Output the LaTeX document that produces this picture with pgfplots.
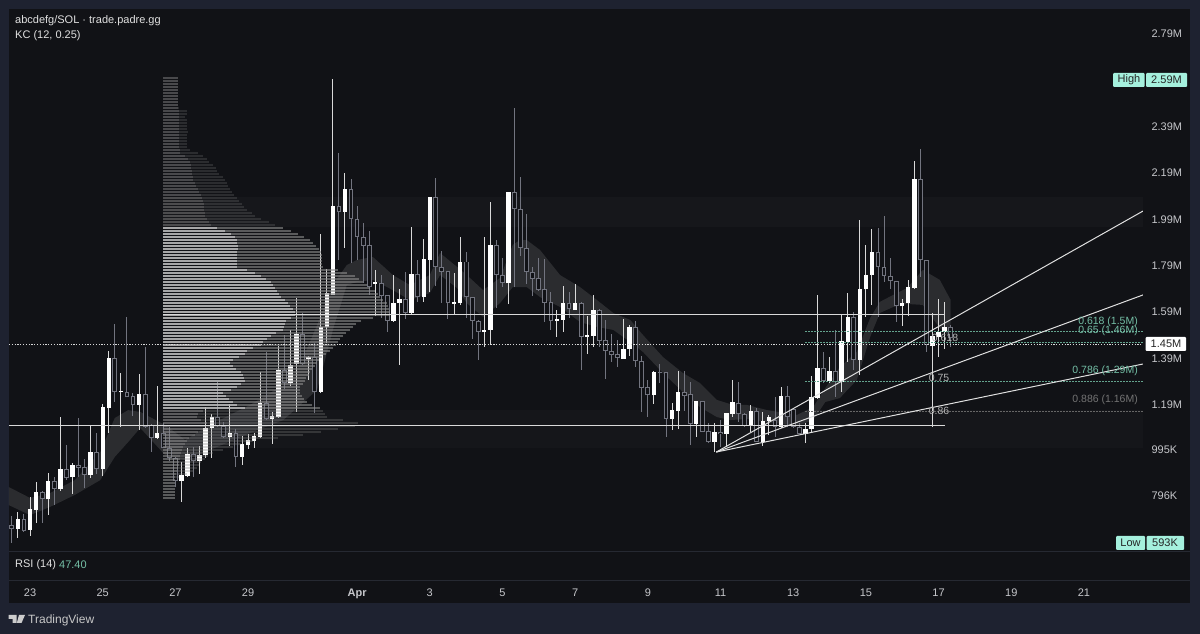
\documentclass[border=0pt]{standalone}
\usepackage{pgfplots}
\usepackage{pgfplotstable}
\usepackage{fontspec}
\pgfplotsset{compat=1.18}
\setmainfont{Liberation Sans}
\definecolor{outer}{HTML}{1E2230}
\definecolor{inner}{HTML}{111216}
\definecolor{divline}{HTML}{262932}
\definecolor{ticktxt}{HTML}{C6C7CB}
\definecolor{mint}{HTML}{A5F0DD}
\definecolor{teal}{HTML}{74BFA6}
\definecolor{hollow}{HTML}{72747F}
\newcommand{\fs}[1]{\fontsize{#1}{#1}\selectfont}
\pgfplotsset{errplot/.style={only marks,mark size=0pt,mark options={draw=none,fill=none}}}
\pgfplotstableread{
i t b h l
-2 0.691 0.648 0.722 0.610
0 0.734 0.645 0.786 0.619
1 0.809 0.731 0.852 0.676
3 0.855 0.777 0.889 0.708
5 0.907 0.820 1.131 0.814
7 0.926 0.872 0.935 0.800
10 0.981 0.881 1.093 0.869
12 1.174 0.907 1.188 0.878
13 1.386 1.170 1.417 1.064
15 1.244 1.239 1.323 1.090
18 1.231 1.185 1.318 1.076
21 1.063 1.042 1.266 1.039
25 0.882 0.856 0.939 0.767
26 0.973 0.878 0.997 0.875
28 0.968 0.942 1.007 0.885
29 1.086 0.968 1.175 0.957
30 1.131 1.085 1.145 0.954
33 1.064 1.047 1.187 1.007
35 1.016 0.960 1.050 0.925
36 1.032 1.011 1.059 0.994
37 1.050 1.030 1.062 0.997
38 1.191 1.047 1.328 1.040
40 1.137 1.125 1.155 1.016
41 1.335 1.134 1.439 1.131
43 1.357 1.278 1.508 1.266
44 1.490 1.361 1.646 1.155
46 1.393 1.384 1.396 1.292
48 1.522 1.241 1.922 1.240
49 1.666 1.522 1.770 1.452
50 2.043 1.659 2.590 1.659
52 2.116 2.018 2.184 1.860
57 1.715 1.706 1.767 1.568
60 1.626 1.548 1.745 1.544
61 1.640 1.626 1.683 1.357
63 1.748 1.582 1.954 1.572
65 1.814 1.649 1.899 1.627
66 2.083 1.810 2.083 1.673
70 1.627 1.621 1.752 1.572
71 1.803 1.623 1.910 1.616
75 1.508 1.499 1.910 1.436
76 1.873 1.508 2.061 1.443
79 2.102 1.709 2.102 1.620
87 1.554 1.548 1.594 1.479
88 1.623 1.551 1.698 1.498
90 1.623 1.594 1.705 1.594
92 1.485 1.479 1.568 1.403
93 1.594 1.483 1.659 1.433
98 1.427 1.384 1.554 1.384
99 1.522 1.424 1.529 1.396
103 1.325 1.226 1.331 1.188
106 1.161 1.125 1.191 1.076
107 1.239 1.159 1.332 1.080
110 1.203 1.102 1.203 1.045
113 1.067 1.026 1.105 0.980
115 1.148 1.060 1.148 1.004
116 1.196 1.145 1.292 1.134
119 1.159 1.093 1.184 1.069
121 1.116 1.026 1.155 1.007
122 1.131 1.115 1.141 1.055
124 1.223 1.090 1.263 1.088
128 1.079 1.059 1.105 1.019
129 1.219 1.079 1.309 1.062
130 1.342 1.213 1.659 1.209
132 1.331 1.288 1.393 1.278
134 1.460 1.285 1.572 1.241
135 1.564 1.457 1.666 1.371
137 1.685 1.378 1.982 1.314
138 1.746 1.683 1.875 1.565
139 1.843 1.746 1.944 1.616
144 1.626 1.610 1.640 1.525
145 1.692 1.626 1.724 1.568
146 2.158 1.690 2.238 1.688
149 1.482 1.440 1.582 1.090
150 1.500 1.479 1.640 1.392
151 1.522 1.500 1.630 1.424
}\upc
\pgfplotstableread{
i t b h l
-3 0.667 0.648 0.705 0.590
-1 0.691 0.642 0.714 0.636
2 0.809 0.777 0.814 0.676
4 0.855 0.823 0.872 0.751
6 0.907 0.869 1.013 0.860
8 0.926 0.912 1.128 0.875
9 0.915 0.883 0.950 0.826
11 0.981 0.907 1.062 0.886
14 1.386 1.241 1.534 1.198
16 1.241 1.217 1.565 1.217
17 1.222 1.185 1.235 1.136
19 1.231 1.090 1.433 1.083
20 1.098 1.043 1.102 0.982
22 1.062 0.997 1.106 0.997
23 1.000 0.957 1.090 0.942
24 0.954 0.856 0.961 0.829
27 0.973 0.941 1.004 0.875
31 1.131 1.095 1.285 1.090
32 1.095 1.047 1.112 1.040
34 1.064 0.961 1.080 0.918
39 1.191 1.122 1.413 1.119
42 1.335 1.280 1.486 1.252
45 1.490 1.361 1.581 1.357
47 1.393 1.241 1.453 1.151
51 2.043 2.018 2.270 1.810
53 2.116 1.986 2.158 1.796
54 1.987 1.908 2.044 1.810
55 1.910 1.872 1.971 1.709
56 1.873 1.695 1.936 1.659
58 1.712 1.656 1.745 1.558
59 1.659 1.548 1.659 1.500
62 1.640 1.582 1.757 1.554
64 1.748 1.649 1.810 1.627
67 2.083 1.781 2.162 1.699
68 1.781 1.759 1.849 1.623
69 1.762 1.623 1.762 1.554
72 1.803 1.649 1.846 1.558
73 1.651 1.548 1.651 1.468
74 1.548 1.499 1.551 1.378
77 1.873 1.744 1.896 1.601
78 1.744 1.709 1.817 1.695
80 2.102 2.030 2.467 1.695
81 2.030 1.860 2.167 1.827
82 1.860 1.757 2.007 1.706
83 1.758 1.729 1.781 1.654
84 1.731 1.682 1.820 1.680
85 1.685 1.626 1.814 1.544
86 1.627 1.548 1.673 1.508
89 1.623 1.597 1.673 1.561
91 1.623 1.479 1.627 1.335
94 1.594 1.462 1.597 1.433
95 1.465 1.418 1.551 1.295
96 1.418 1.401 1.490 1.371
97 1.404 1.386 1.465 1.347
100 1.519 1.374 1.548 1.349
101 1.375 1.259 1.396 1.155
102 1.262 1.226 1.292 1.134
104 1.325 1.322 1.361 1.279
105 1.325 1.125 1.325 1.047
108 1.239 1.223 1.332 1.159
109 1.230 1.102 1.285 1.011
111 1.203 1.069 1.203 1.069
112 1.071 1.024 1.108 1.019
114 1.069 1.058 1.119 1.004
117 1.194 1.144 1.285 1.112
118 1.145 1.093 1.148 1.090
120 1.158 1.026 1.170 1.026
123 1.119 1.090 1.220 1.047
125 1.223 1.134 1.266 1.089
126 1.165 1.090 1.165 1.089
127 1.090 1.059 1.105 1.059
131 1.342 1.288 1.414 1.278
133 1.331 1.285 1.508 1.220
136 1.564 1.378 1.587 1.335
140 1.843 1.781 1.947 1.565
141 1.781 1.741 1.999 1.716
142 1.741 1.718 1.820 1.683
143 1.719 1.611 1.719 1.544
147 2.158 1.809 2.288 1.738
148 1.810 1.443 1.810 1.414
152 1.522 1.472 1.529 1.436
}\downc
\pgfplotstableread{
p iw ow
2.595 15 15
2.582 15 15
2.569 15 15
2.557 15 15
2.544 15 15
2.531 15 15
2.518 15 15
2.505 15 15
2.492 15 15
2.479 15 15
2.466 15 16
2.453 16 24
2.440 16 24
2.427 16 22
2.414 16 24
2.401 16 24
2.388 16 24
2.375 16 24
2.362 16 25
2.349 16 24
2.336 16 24
2.323 16 24
2.310 16 24
2.298 16 24
2.285 17 27
2.272 17 35
2.259 22 40
2.246 25 44
2.233 27 46
2.220 28 50
2.207 28 53
2.194 29 54
2.181 29 56
2.168 30 60
2.155 30 62
2.142 32 64
2.129 33 65
2.116 35 67
2.103 36 69
2.090 38 71
2.077 39 74
2.064 40 76
2.052 41 79
2.039 41 81
2.026 41 84
2.013 42 89
2.000 42 92
1.987 44 98
1.974 46 106
1.961 48 112
1.948 54 120
1.935 62 128
1.922 68 135
1.909 72 141
1.896 74 147
1.883 74 150
1.870 75 153
1.857 75 156
1.844 74 158
1.831 74 159
1.818 74 159
1.805 74 159
1.793 74 159
1.780 74 160
1.767 84 175
1.754 92 184
1.741 98 192
1.728 103 196
1.715 108 200
1.702 110 204
1.689 112 207
1.676 114 212
1.663 116 215
1.650 118 217
1.637 122 220
1.624 125 224
1.611 127 225
1.598 130 226
1.585 132 227
1.572 132 227
1.559 128 210
1.547 123 198
1.534 122 193
1.521 121 190
1.508 120 187
1.495 113 183
1.482 108 180
1.469 104 177
1.456 100 175
1.443 98 173
1.430 90 170
1.417 84 167
1.404 82 163
1.391 76 159
1.378 70 156
1.365 67 154
1.352 70 152
1.339 73 149
1.326 78 147
1.313 80 146
1.301 81 143
1.288 82 142
1.275 78 140
1.262 74 137
1.249 68 137
1.236 60 137
1.223 63 139
1.210 66 141
1.197 70 144
1.184 74 149
1.171 82 157
1.158 40 160
1.145 35 162
1.132 34 164
1.119 38 180
1.106 44 195
1.093 42 192
1.080 40 175
1.067 35 158
1.054 32 140
1.042 26 115
1.029 24 90
1.016 22 78
1.003 20 70
0.990 19 60
0.977 18 50
0.964 17 45
0.951 17 42
0.938 16 38
0.925 16 36
0.912 15 34
0.899 14 30
0.886 13 24
0.873 12 16
0.860 12 12
0.847 12 12
0.834 12 12
0.821 12 12
0.808 12 12
0.796 12 12
0.783 12 12
}\vp
\def\vpbase{21.96}
\def\P#1#2{({#1pt},{634pt-#2pt})}
\begin{document}
\begin{tikzpicture}[x=1pt,y=1pt]
\fill[outer] (0,0) rectangle (1200,634);
\fill[inner] \P{9}{9} rectangle \P{1190}{603};
\draw[divline,line width=1pt] \P{9}{551.5} -- \P{1190}{551.5};
\draw[divline,line width=1pt] \P{9}{580.5} -- \P{1190}{580.5};
\begin{axis}[
  at={(9pt,83pt)},anchor=south west,
  scale only axis,width=1134pt,height=542pt,
  xmin=-3.47,xmax=183.75,ymin=0.554,ymax=2.893,
  axis line style={draw=none},
  major tick length=0pt,
  tick style={draw=none},
  xtick={0,12,24,36,54,66,78,90,102,114,126,138,150,162,174},
  xticklabels={23,25,27,29,\textbf{Apr},3,5,7,9,11,13,15,17,19,21},
  xticklabel style={font=\fs{11},text=ticktxt,yshift=-34pt},
  ytick={2.79,2.39,2.19,1.99,1.79,1.59,1.39,1.19,0.995,0.796},
  yticklabels={2.79M,2.39M,2.19M,1.99M,1.79M,1.59M,1.39M,1.19M,995K,796K},
  yticklabel pos=right,
  yticklabel style={font=\fs{11},text=ticktxt,anchor=west,xshift=5pt,yshift=-1pt},
]
% shaded zones
\addplot[fill=white,fill opacity=0.025,draw=none] coordinates {(21.96,2.082)(183.75,2.082)(183.75,1.952)(21.96,1.952)};
\addplot[fill=white,fill opacity=0.018,draw=none] coordinates {(21.96,1.162)(183.75,1.162)(183.75,0.998)(21.96,0.998)};
% Keltner channel
\addplot[fill=white,fill opacity=0.11,draw=none] coordinates {
(-3.5,0.830)(0,0.783)(3.3,0.804)(7.4,0.860)(11.6,0.981)(14,1.128)(16.2,1.162)(18.2,1.154)(22.3,1.098)(25.6,1.033)(29.7,1.098)(36.3,1.184)(41.8,1.270)(44.6,1.357)(47.4,1.529)(50,1.702)(52.3,1.788)(54,1.810)(56.6,1.823)(59.9,1.745)(62.7,1.702)(66,1.745)(67.7,1.840)(70.5,1.780)(72.1,1.745)(74.8,1.680)(77.6,1.732)(79.7,1.875)(80.9,1.896)(82,1.896)(84.2,1.853)(87.5,1.745)(90.8,1.693)(93.6,1.637)(96.3,1.581)(99.1,1.551)(101.2,1.486)(104.5,1.391)(107.8,1.322)(110.6,1.279)(113.4,1.206)(115.6,1.188)(118.4,1.184)(121.7,1.162)(126.6,1.141)(129.3,1.175)(131.3,1.257)(133.7,1.348)(136.5,1.413)(138.7,1.559)(140.3,1.629)(142.5,1.659)(144.8,1.689)(147.4,1.767)(150.2,1.724)(152,1.637)
(152,1.477)(150.2,1.516)(147.4,1.616)(144.8,1.620)(142.5,1.607)(140.3,1.581)(138.7,1.477)(136.5,1.292)(133.7,1.214)(131.3,1.197)(129.3,1.119)(126.6,1.093)(121.7,1.111)(118.4,1.124)(115.6,1.119)(113.4,1.132)(110.6,1.175)(107.8,1.240)(104.5,1.322)(101.2,1.413)(99.1,1.456)(96.3,1.508)(93.6,1.521)(90.8,1.542)(87.5,1.607)(84.2,1.650)(82,1.693)(80.9,1.693)(79.7,1.693)(77.6,1.624)(74.8,1.564)(72.1,1.624)(70.5,1.689)(67.7,1.745)(66,1.667)(62.7,1.637)(59.9,1.680)(56.6,1.724)(54,1.715)(52.3,1.702)(50,1.508)(47.4,1.249)(44.6,1.184)(41.8,1.119)(36.3,1.063)(29.7,0.990)(25.6,0.947)(22.3,0.968)(18.2,1.085)(16.2,1.024)(14,0.960)(11.6,0.860)(7.4,0.796)(3.3,0.744)(0,0.709)(-3.5,0.752)};
% wicks
\addplot[errplot,error bars/.cd,y dir=both,y explicit,error mark=none,error bar style={line width=1pt,color=hollow}]
 table[x=i,y=b,y error plus expr=\thisrow{h}-\thisrow{b},y error minus expr=\thisrow{b}-\thisrow{l}] {\downc};
\addplot[errplot,error bars/.cd,y dir=both,y explicit,error mark=none,error bar style={line width=1pt,color=white!85!black}]
 table[x=i,y=b,y error plus expr=\thisrow{h}-\thisrow{b},y error minus expr=\thisrow{b}-\thisrow{l}] {\upc};
% hollow bodies
\addplot[errplot,error bars/.cd,y dir=plus,y explicit,error mark=none,error bar style={line width=4.8pt,color=hollow}]
 table[x=i,y=b,y error plus expr=\thisrow{t}-\thisrow{b}] {\downc};
\addplot[errplot,error bars/.cd,y dir=plus,y explicit,error mark=none,error bar style={line width=2.8pt,color=inner}]
 table[x=i,y expr=\thisrow{b}+0.004,y error plus expr={max(\thisrow{t}-\thisrow{b}-0.008,0)}] {\downc};
% solid bodies
\addplot[errplot,error bars/.cd,y dir=plus,y explicit,error mark=none,error bar style={line width=4.4pt,color=white}]
 table[x=i,y=b,y error plus expr=\thisrow{t}-\thisrow{b}] {\upc};
% volume profile: upper zone
\addplot[errplot,restrict y to domain=1.955:2.7,error bars/.cd,x dir=plus,x explicit,error mark=none,error bar style={line width=2.6pt,color=gray!90!white,opacity=0.46}]
 table[x expr=\vpbase,y=p,x error plus expr=\thisrow{iw}/6.057] {\vp};
\addplot[errplot,restrict y to domain=1.955:2.7,error bars/.cd,x dir=plus,x explicit,error mark=none,error bar style={line width=2.6pt,color=gray,opacity=0.24}]
 table[x expr=\vpbase+\thisrow{iw}/6.057,y=p,x error plus expr=(\thisrow{ow}-\thisrow{iw})/6.057] {\vp};
% middle zone
\addplot[errplot,restrict y to domain=1.165:1.955,error bars/.cd,x dir=plus,x explicit,error mark=none,error bar style={line width=2pt,color=white!72!black,opacity=0.9}]
 table[x expr=\vpbase,y=p,x error plus expr=\thisrow{iw}/6.057] {\vp};
\addplot[errplot,restrict y to domain=1.165:1.955,error bars/.cd,x dir=plus,x explicit,error mark=none,error bar style={line width=2pt,color=gray!90!white,opacity=0.6}]
 table[x expr=\vpbase+\thisrow{iw}/6.057,y=p,x error plus expr=(\thisrow{ow}-\thisrow{iw})/6.057] {\vp};
% lower zone
\addplot[errplot,restrict y to domain=0.7:1.165,error bars/.cd,x dir=plus,x explicit,error mark=none,error bar style={line width=2pt,color=gray!90!white,opacity=0.6}]
 table[x expr=\vpbase,y=p,x error plus expr=\thisrow{iw}/6.057] {\vp};
\addplot[errplot,restrict y to domain=0.7:1.165,error bars/.cd,x dir=plus,x explicit,error mark=none,error bar style={line width=2pt,color=gray,opacity=0.3}]
 table[x expr=\vpbase+\thisrow{iw}/6.057,y=p,x error plus expr=(\thisrow{ow}-\thisrow{iw})/6.057] {\vp};
% horizontal levels
\addplot[white!85!black,line width=1.3pt] coordinates {(21.96,1.575)(151,1.575)};
\addplot[white!85!black,line width=1.3pt] coordinates {(-3.47,1.095)(151,1.095)};
\addplot[white!85!black,line width=0.8pt,dash pattern=on 1.2pt off 1.6pt] coordinates {(-3.47,1.447)(183.75,1.447)};
% fib levels
\addplot[teal!85!black,line width=0.6pt,dash pattern=on 1.5pt off 1.5pt] coordinates {(127.95,1.500)(183.75,1.500)};
\addplot[teal!85!black,line width=0.6pt,dash pattern=on 1.5pt off 1.5pt] coordinates {(127.95,1.455)(183.75,1.455)};
\addplot[teal!85!black,line width=0.6pt,dash pattern=on 1.5pt off 1.5pt] coordinates {(127.95,1.286)(183.75,1.286)};
\addplot[gray!80!black,line width=0.6pt,dash pattern=on 1.5pt off 1.5pt] coordinates {(127.95,1.159)(183.75,1.159)};
% fan lines
\addplot[white!88!black,line width=1pt] coordinates {(113.3,0.981)(183.75,2.021)};
\addplot[white!88!black,line width=1pt] coordinates {(113.3,0.981)(183.75,1.659)};
\addplot[white!88!black,line width=1pt] coordinates {(113.3,0.981)(183.75,1.361)};
\end{axis}
% titles
\node[anchor=west,text=white!88!black,font=\fs{11},inner sep=0] at \P{15}{21} {abcdefg/SOL · trade.padre.gg};
\node[anchor=west,text=white!88!black,font=\fs{11},inner sep=0] at \P{15}{36} {KC (12, 0.25)};
\node[anchor=west,text=white!88!black,font=\fs{11},inner sep=0] at \P{15}{565} {RSI (14)};
\node[anchor=west,text=teal,font=\fs{11},inner sep=0] at \P{59}{565} {47.40};
% fib texts
\node[anchor=east,text=teal,font=\fs{10.5},inner sep=0] at \P{1138}{322} {0.618 (1.5M)};
\node[anchor=east,text=teal,font=\fs{10.5},inner sep=0] at \P{1138}{331} {0.65 (1.46M)};
\node[anchor=east,text=teal,font=\fs{10.5},inner sep=0] at \P{1138}{371} {0.786 (1.29M)};
\node[anchor=east,text=gray!90!black,font=\fs{10.5},inner sep=0] at \P{1138}{400} {0.886 (1.16M)};
\node[text=white!70!black,font=\fs{10.5},inner sep=0] at \P{945}{338} {0.618};
\node[text=white!70!black,font=\fs{10.5},inner sep=0] at \P{939}{378} {0.75};
\node[text=white!70!black,font=\fs{10.5},inner sep=0] at \P{939}{411} {0.86};
% tags
\fill[mint,rounded corners=1pt] \P{1113}{73} rectangle \P{1144.5}{87};
\fill[mint,rounded corners=1pt] \P{1146}{73} rectangle \P{1187}{87};
\node[text=black!85,font=\fs{11},inner sep=0] at \P{1129}{80} {High};
\node[text=black!85,font=\fs{11},inner sep=0] at \P{1166.5}{80} {2.59M};
\fill[mint,rounded corners=1pt] \P{1116}{536} rectangle \P{1145}{550};
\fill[mint,rounded corners=1pt] \P{1146.5}{536} rectangle \P{1184}{550};
\node[text=black!85,font=\fs{11},inner sep=0] at \P{1130.5}{543} {Low};
\node[text=black!85,font=\fs{11},inner sep=0] at \P{1165}{543} {593K};
\fill[white,rounded corners=1pt] \P{1145.5}{337} rectangle \P{1186}{351};
\node[text=black!85,font=\fs{11},inner sep=0] at \P{1166}{344} {1.45M};
% TradingView mark
\fill[white!80!black] \P{8.5}{615} -- \P{16.5}{615} -- \P{16.5}{623} -- \P{12.5}{623} -- \P{12.5}{619} -- \P{8.5}{619} -- cycle;
\fill[white!80!black] \P{19}{615} -- \P{25}{615} -- \P{21.5}{623} -- \P{16.8}{623} -- cycle;
\node[anchor=west,text=white!78!black,font=\fs{12},inner sep=0] at \P{28}{620} {TradingView};
\end{tikzpicture}
\end{document}
